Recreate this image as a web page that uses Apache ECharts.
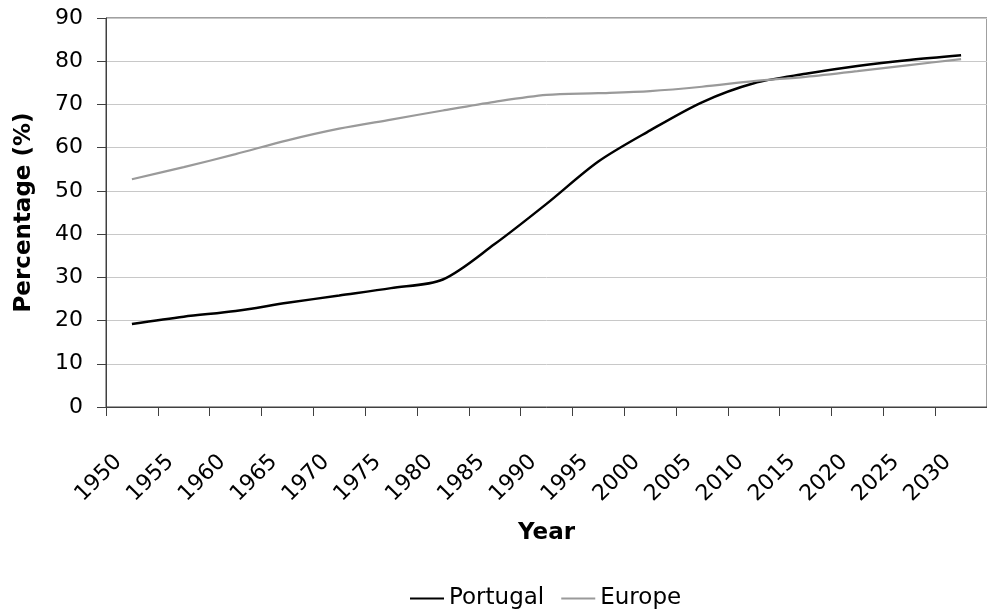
<!DOCTYPE html>
<html>
<head>
<meta charset="utf-8">
<script src="https://cdn.jsdelivr.net/npm/echarts@6/dist/echarts.min.js"></script>
<style>
  html, body { margin: 0; padding: 0; background: #fff; }
  #chart { width: 987px; height: 613px; }
</style>
</head>
<body>
<div id="chart"></div>
<script>
var years = ['1950', '1955', '1960', '1965', '1970', '1975', '1980', '1985', '1990',
             '1995', '2000', '2005', '2010', '2015', '2020', '2025', '2030'];
var portugal = [19.2, 20.9, 22.2, 24.1, 25.8, 27.5, 29.5, 37.7, 47.0,
                56.8, 64.0, 70.5, 74.9, 77.1, 78.9, 80.3, 81.4];
var europe = [52.7, 55.5, 58.5, 61.7, 64.4, 66.5, 68.6, 70.6, 72.2,
              72.6, 73.1, 74.1, 75.4, 76.4, 77.7, 79.1, 80.5];

var FONT = 'DejaVu Sans';
var chart = echarts.init(document.getElementById('chart'));

chart.setOption({
    animation: false,
    grid: {
        left: 106, top: 18, right: -8, bottom: 206,
        show: true, borderColor: '#404040', borderWidth: 1
    },
    legend: {
        left: 405, top: 582,
        icon: 'rect', itemWidth: 34, itemHeight: 2, itemGap: 17,
        textStyle: { fontFamily: FONT, fontSize: 23, color: '#000' },
        data: ['Portugal', 'Europe']
    },
    xAxis: {
        type: 'category',
        data: years,
        boundaryGap: true,
        name: 'Year',
        nameLocation: 'middle',
        nameGap: 115,
        nameTextStyle: { fontFamily: FONT, fontSize: 23, fontWeight: 'bold', color: '#000' },
        axisLine: { lineStyle: { color: '#404040', width: 1 } },
        axisTick: { show: true, length: 9, interval: 0, lineStyle: { color: '#404040' } },
        axisLabel: {
            interval: 0, rotate: 45, margin: 38, padding: [0, 19, 0, 0],
            fontFamily: FONT, fontSize: 22, color: '#000'
        },
        splitLine: { show: false }
    },
    yAxis: {
        type: 'value',
        min: 0, max: 90, interval: 10,
        name: 'Percentage (%)',
        nameLocation: 'middle',
        nameGap: 70,
        nameTextStyle: { fontFamily: FONT, fontSize: 23, fontWeight: 'bold', color: '#000' },
        axisLine: { show: true, lineStyle: { color: '#404040', width: 1 } },
        axisTick: { show: true, length: 9, lineStyle: { color: '#404040' } },
        axisLabel: { margin: 23, fontFamily: FONT, fontSize: 22, color: '#000' },
        splitLine: { lineStyle: { color: '#c8c8c8', width: 1 } }
    },
    series: [
        {
            name: 'Portugal', type: 'line', data: portugal,
            smooth: 0.3, symbol: 'none',
            lineStyle: { color: '#000', width: 2.5 },
            itemStyle: { color: '#000' }
        },
        {
            name: 'Europe', type: 'line', data: europe,
            smooth: 0.3, symbol: 'none',
            lineStyle: { color: '#9a9a9a', width: 2.2 },
            itemStyle: { color: '#9a9a9a' }
        }
    ]
});
</script>
</body>
</html>
